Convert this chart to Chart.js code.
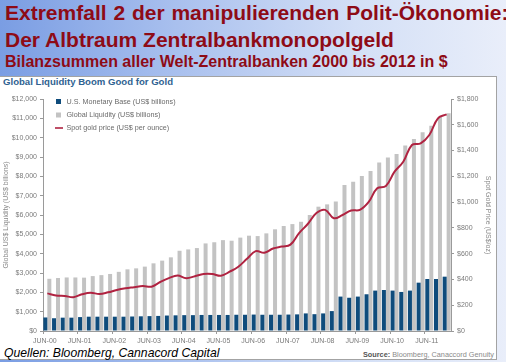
<!DOCTYPE html>
<html>
<head>
<meta charset="utf-8">
<script src="https://cdn.jsdelivr.net/npm/chart.js@4"></script>
<style>
  html, body { margin:0; padding:0; }
  body { width:506px; height:362px; position:relative; overflow:hidden;
         background: linear-gradient(to right, #7a9de3 0%, #a9c0ee 35%, #d3dff6 70%, #e9eefa 100%);
         font-family: "Liberation Sans", Arial, sans-serif; }
  .h { position:absolute; left:5px; color:#8e0b16; font-weight:bold; white-space:nowrap; }
  #h1 { top:0px; font-size:21px; line-height:26px; word-spacing:1px; }
  #h2 { top:27px; font-size:21px; line-height:26px; }
  #h3 { top:52px; font-size:16px; line-height:20px; }
  #panel { position:absolute; left:0; top:76px; width:496px; height:282px; background:#fff;
           border:1px solid #a3a3a3; border-left:none; }
  #ctitle { position:absolute; left:3px; top:76px; font-size:9.6px; font-weight:bold; color:#2f6291; }
  #src { position:absolute; right:12px; top:350px; font-size:7.3px; color:#8a8a8a; }
  #src b { color:#555; }
  #quellen { position:absolute; left:4px; top:346px; font-size:12.2px; font-style:italic; color:#000; }
  canvas { position:absolute; left:0; top:0; }
</style>
</head>
<body>
<div class="h" id="h1">Extremfall 2 der manipulierenden Polit-Ökonomie:</div>
<div class="h" id="h2">Der Albtraum Zentralbankmonopolgeld</div>
<div class="h" id="h3">Bilanzsummen aller Welt-Zentralbanken 2000 bis 2012 in $</div>
<div id="panel"></div>
<div id="ctitle">Global Liquidity Boom Good for Gold</div>
<div id="src"><b>Source:</b> Bloomberg, Canaccord Genuity</div>
<div id="quellen">Quellen: Bloomberg, Cannacord Capital</div>
<canvas id="c" width="506" height="362"></canvas>
<script>
// Quarterly categories
const quarters = [
  "JUN-00","SEP-00","DEC-00","MAR-01","JUN-01","SEP-01","DEC-01","MAR-02",
  "JUN-02","SEP-02","DEC-02","MAR-03","JUN-03","SEP-03","DEC-03","MAR-04",
  "JUN-04","SEP-04","DEC-04","MAR-05","JUN-05","SEP-05","DEC-05","MAR-06",
  "JUN-06","SEP-06","DEC-06","MAR-07","JUN-07","SEP-07","DEC-07","MAR-08",
  "JUN-08","SEP-08","DEC-08","MAR-09","JUN-09","SEP-09","DEC-09","MAR-10",
  "JUN-10","SEP-10","DEC-10","MAR-11","JUN-11","SEP-11","DEC-11"
];
// U.S. Monetary Base (US$ billions)
const usMonetaryBase = [
  700, 660, 690, 690, 720, 740, 740, 740, 740, 740,
  750, 760, 770, 780, 800, 810, 820, 820, 830, 830,
  830, 830, 840, 840, 850, 840, 840, 840, 850, 860,
  910, 870, 910, 1030, 1780, 1720, 1780, 1900, 2090, 2120,
  2090, 2020, 2090, 2500, 2690, 2690, 2810
];
// Global Liquidity (US$ billions)
const globalLiquidity = [
  2700, 2740, 2770, 2770, 2760, 2840, 2890, 2950, 3060, 3190,
  3240, 3330, 3500, 3640, 3810, 4150, 4220, 4290, 4530, 4590,
  4700, 4670, 4830, 4930, 4910, 5050, 5260, 5430, 5530, 5650,
  6000, 6430, 6550, 6700, 7550, 7720, 8020, 8280, 8720, 8970,
  9160, 9590, 9930, 10280, 10620, 11090, 11260
];
// Spot gold price (US$ per ounce)
const goldPrice = [
  292, 275, 272, 262, 285, 297, 287, 300, 318, 331,
  340, 349, 344, 380, 410, 430, 410, 425, 442, 442,
  429, 460, 499, 560, 620, 607, 640, 655, 670, 760,
  830, 915, 940, 875, 900, 935, 940, 1000, 1107, 1125,
  1236, 1313, 1443, 1456, 1521, 1650, 1681
];
const leftTicks = { min: 0, max: 12000, step: 1000 };
const rightTicks = { min: 0, max: 1800, step: 200 };

const tickFont = { family: "Liberation Sans", size: 7 };
const tickColor = "#7a7a7a";
const axisColor = "#9a9a9a";

const legendPlugin = {
  id: "cornerLegend",
  afterDraw(chart) {
    const ctx = chart.ctx;
    const a = chart.chartArea;
    const x0 = a.left + 13, tx = a.left + 23.5;
    const rows = [a.top + 2.5, a.top + 16, a.top + 29];
    ctx.save();
    ctx.font = "7.2px 'Liberation Sans'";
    ctx.textBaseline = "middle";
    ctx.fillStyle = "#6a6a6a";
    const order = [1, 2, 0];
    order.forEach((di, r) => {
      const ds = chart.data.datasets[di];
      const y = rows[r];
      if (ds.type === "line") {
        ctx.strokeStyle = ds.borderColor;
        ctx.lineWidth = 1.6;
        ctx.beginPath(); ctx.moveTo(x0 - 1, y); ctx.lineTo(x0 + 7, y); ctx.stroke();
      } else {
        ctx.fillStyle = ds.backgroundColor;
        ctx.fillRect(x0, y - 2.5, 5, 5);
      }
      ctx.fillStyle = "#6a6a6a";
      ctx.fillText(ds.label, tx, y + 0.5);
    });
    ctx.restore();
  }
};

new Chart(document.getElementById("c"), {
  data: {
    labels: quarters,
    datasets: [
      { type: "line", label: "Spot gold price (US$ per ounce)", data: goldPrice, yAxisID: "y1",
        borderColor: "#b02341", borderWidth: 2, tension: 0.4, pointRadius: 0, order: 0 },
      { type: "bar", label: "U.S. Monetary Base (US$ billions)", data: usMonetaryBase, yAxisID: "y",
        backgroundColor: "#0f4c7c", order: 1, categoryPercentage: 0.92, barPercentage: 1.0 },
      { type: "bar", label: "Global Liquidity (US$ billions)", data: globalLiquidity, yAxisID: "y",
        backgroundColor: "#c3c3c3", order: 2, categoryPercentage: 0.92, barPercentage: 1.0 }
    ]
  },
  options: {
    responsive: false,
    animation: false,
    events: [],
    layout: { padding: { left: 0, right: 8, top: 99, bottom: 0 } },
    plugins: { legend: { display: false }, tooltip: { enabled: false }, title: { display: false } },
    scales: {
      x: {
        type: "category",
        offset: true,
        grid: { offset: true, drawOnChartArea: false, tickLength: 3,
                color: (c) => (c.index % 4 === 0 ? axisColor : "rgba(0,0,0,0)") },
        border: { color: axisColor },
        ticks: { autoSkip: false, maxRotation: 0, minRotation: 0, font: tickFont, color: tickColor,
                 padding: 3, labelOffset: -2.5,
                 callback: (v, i) => (quarters[i].startsWith("JUN") ? quarters[i] : "") },
        afterFit: (s) => { s.height = 31; }
      },
      y: {
        position: "left",
        min: leftTicks.min, max: leftTicks.max,
        grid: { drawOnChartArea: false, tickLength: 3, color: axisColor },
        border: { color: axisColor },
        ticks: { stepSize: leftTicks.step, font: tickFont, color: tickColor, padding: 3,
                 callback: (v) => "$" + v.toLocaleString("en-US") },
        title: { display: true, text: "Global US$ Liquidity (US$ billions)", color: "#8a8a8a",
                 font: { family: "Liberation Sans", size: 7 }, padding: { top: 1.5, bottom: 0 } },
        afterFit: (s) => { s.width = 43; }
      },
      y1: {
        position: "right",
        min: rightTicks.min, max: rightTicks.max,
        grid: { drawOnChartArea: false, tickLength: 3, color: axisColor },
        border: { color: axisColor },
        ticks: { stepSize: rightTicks.step, font: tickFont, color: tickColor, padding: 3,
                 callback: (v) => "$" + v.toLocaleString("en-US") },
        title: { display: true, text: "Spot Gold Price (US$/oz)", color: "#8a8a8a",
                 font: { family: "Liberation Sans", size: 7 }, padding: { top: 6, bottom: 0 } },
        afterFit: (s) => { s.width = 47; }
      }
    }
  },
  plugins: [legendPlugin]
});
</script>
</body>
</html>
